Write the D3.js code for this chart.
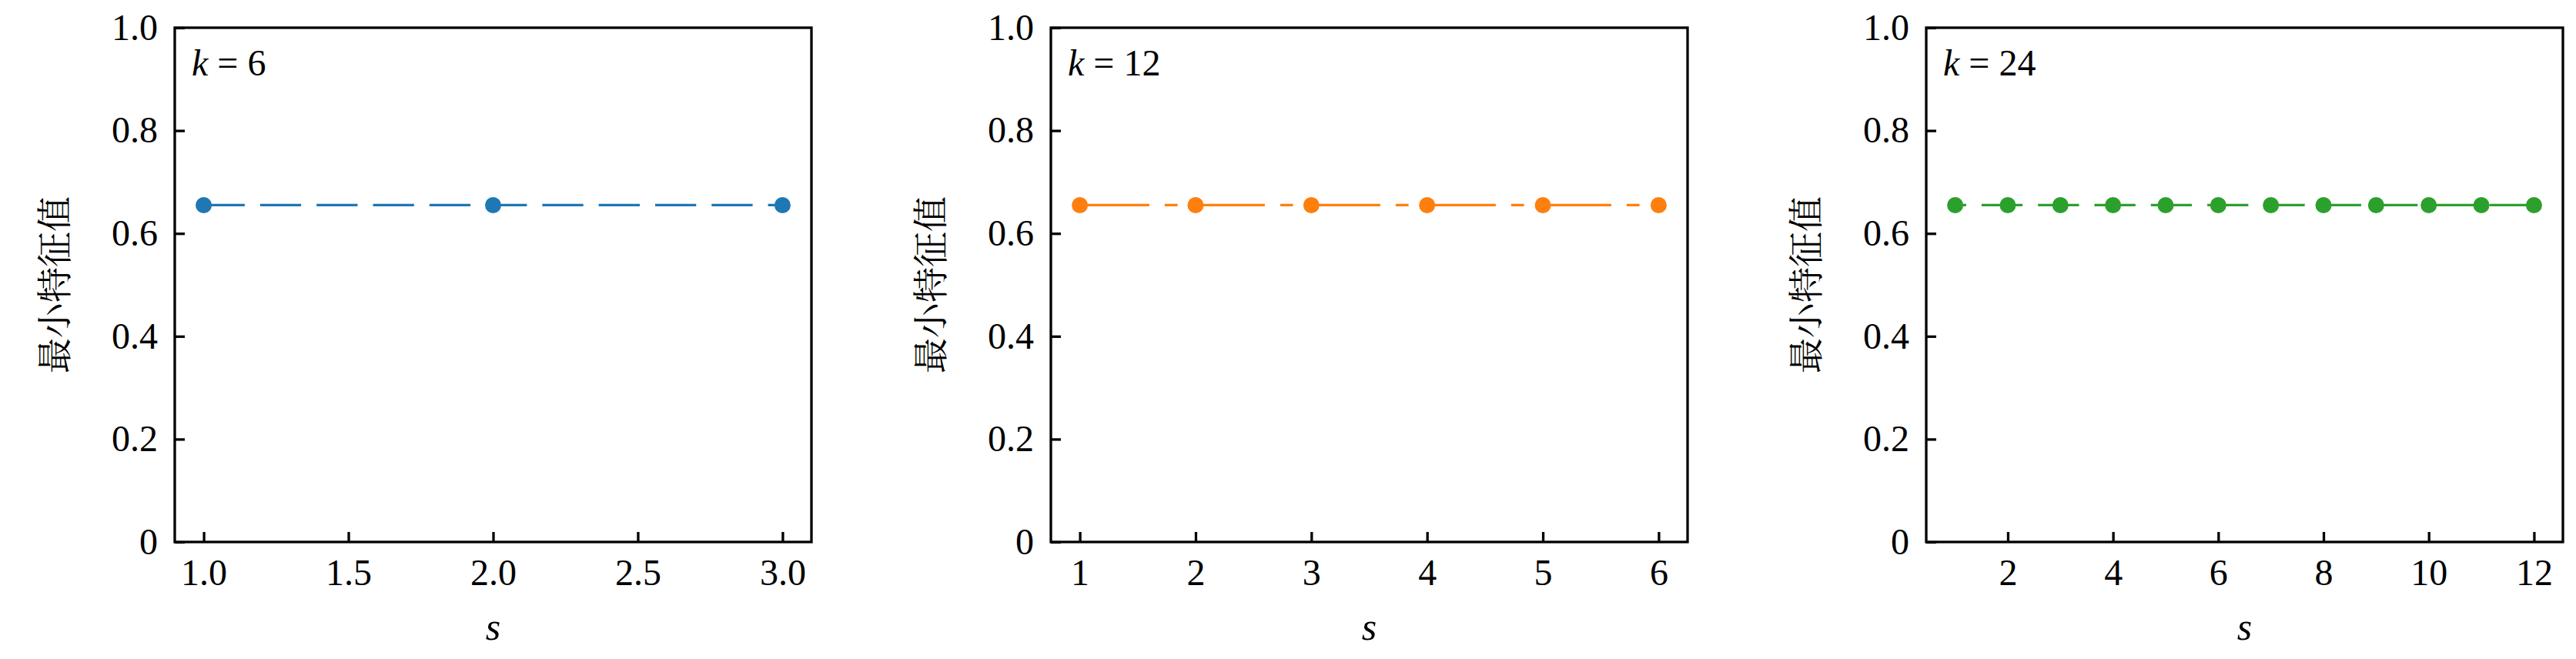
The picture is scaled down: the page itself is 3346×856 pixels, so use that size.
<!DOCTYPE html>
<html>
<head>
<meta charset="utf-8">
<script src="https://cdn.jsdelivr.net/npm/d3@7"></script>
<style>
  body { margin: 0; background: #fff; }
  .serif { font-family: "Liberation Serif", LiberationSerif, "DejaVu Serif", DejaVuSerif, "Noto Serif", "Noto Serif CJK SC", Times, "Times New Roman", serif; }
</style>
</head>
<body>
<svg id="chart" width="3346" height="856"></svg>
<script>
// data
const kValues = [6, 12, 24];
const sK6 = [1, 2, 3];
const sK12 = [1, 2, 3, 4, 5, 6];
const sK24 = [1, 2, 3, 4, 5, 6, 7, 8, 9, 10, 11, 12];
const eigK6 = [0.655, 0.655, 0.655];
const eigK12 = [0.655, 0.655, 0.655, 0.655, 0.655, 0.655];
const eigK24 = [0.655, 0.655, 0.655, 0.655, 0.655, 0.655, 0.655, 0.655, 0.655, 0.655, 0.655, 0.655];
const xTicksK6 = [1.0, 1.5, 2.0, 2.5, 3.0];
const xTicksK12 = [1, 2, 3, 4, 5, 6];
const xTicksK24 = [2, 4, 6, 8, 10, 12];
const yTicks = [0, 0.2, 0.4, 0.6, 0.8, 1.0];

const yLabel = '最小特征值';
const xLabel = 's';

// per panel look
const panels = [
  { k: kValues[0], s: sK6, v: eigK6, ticks: xTicksK6, fmt: d3.format('.1f'),
    color: '#1f77b4', dash: '53.3,20', offset: 0 },
  { k: kValues[1], s: sK12, v: eigK12, ticks: xTicksK12, fmt: d3.format('d'),
    color: '#ff7f0e', dash: '93.3,20,16.7,20', offset: 3 },
  { k: kValues[2], s: sK24, v: eigK24, ticks: xTicksK24, fmt: d3.format('d'),
    color: '#2ca02c', dash: '53.3,20', offset: 39 }
];

const lefts = [227, 1365, 2502];
const plotW = 827, plotTop = 36, plotBottom = 704;
const lw = 3.3;

const svg = d3.select('#chart');

panels.forEach((p, i) => {
  let left = lefts[i];
  let ext = d3.extent(p.s);
  let pad = (ext[1] - ext[0]) * 0.05;

  let x = d3.scaleLinear().domain([ext[0] - pad, ext[1] + pad]).range([left, left + plotW]);
  let y = d3.scaleLinear().domain([0, 1]).range([plotBottom, plotTop]);

  let g = svg.append('g');

  // axes, ticks pointing inward
  let yAxis = d3.axisLeft(y)
    .tickValues(yTicks)
    .tickFormat(d => d === 0 ? '0' : d3.format('.1f')(d))
    .tickSizeInner(-13).tickSizeOuter(0).tickPadding(22);
  g.append('g')
    .attr('transform', `translate(${left},0)`)
    .call(yAxis)
    .attr('font-size', 48)
    .call(a => a.select('.domain').remove())
    .call(a => a.selectAll('.tick text').classed('serif', true))
    .call(a => a.selectAll('.tick line').attr('stroke', '#000').attr('stroke-width', lw));

  let xAxis = d3.axisBottom(x)
    .tickValues(p.ticks)
    .tickFormat(p.fmt)
    .tickSizeInner(-13).tickSizeOuter(0).tickPadding(22);
  g.append('g')
    .attr('transform', `translate(0,${plotBottom})`)
    .call(xAxis)
    .attr('font-size', 48)
    .call(a => a.select('.domain').remove())
    .call(a => a.selectAll('.tick text').classed('serif', true))
    .call(a => a.selectAll('.tick line').attr('stroke', '#000').attr('stroke-width', lw));

  // frame
  g.append('rect')
    .attr('x', left).attr('y', plotTop)
    .attr('width', plotW).attr('height', plotBottom - plotTop)
    .attr('fill', 'none').attr('stroke', '#000').attr('stroke-width', lw);

  let pts = p.s.map((s, j) => ({ s: s, v: p.v[j] }));

  let line = d3.line().x(d => x(d.s)).y(d => y(d.v));
  g.append('path')
    .datum(pts)
    .attr('d', line)
    .attr('fill', 'none')
    .attr('stroke', p.color)
    .attr('stroke-width', lw)
    .attr('stroke-dasharray', p.dash)
    .attr('stroke-dashoffset', p.offset);

  g.selectAll('circle.pt')
    .data(pts)
    .join('circle')
    .classed('pt', true)
    .attr('cx', d => x(d.s))
    .attr('cy', d => y(d.v))
    .attr('r', 10.5)
    .attr('fill', p.color);

  // k = ... annotation
  let ann = g.append('text')
    .classed('serif', true)
    .attr('x', left + 22)
    .attr('y', 98)
    .style('font-size', '48px');
  ann.append('tspan').style('font-style', 'italic').text('k');
  ann.append('tspan').attr('dx', 12).text('=');
  ann.append('tspan').attr('dx', 12).text(p.k);

  // axis labels
  g.append('text')
    .classed('serif', true)
    .attr('x', left + plotW / 2)
    .attr('y', 831)
    .attr('text-anchor', 'middle')
    .style('font-style', 'italic')
    .style('font-size', '50px')
    .text(xLabel);

  g.append('text')
    .attr('transform', `translate(${left - 160},${(plotTop + plotBottom) / 2}) rotate(-90)`)
    .attr('text-anchor', 'middle')
    .attr('dominant-baseline', 'central')
    .style('font-family', '"Noto Serif CJK SC", "Noto Sans CJK SC", sans-serif')
    .style('font-size', '46px')
    .text(yLabel);
});
</script>
</body>
</html>
